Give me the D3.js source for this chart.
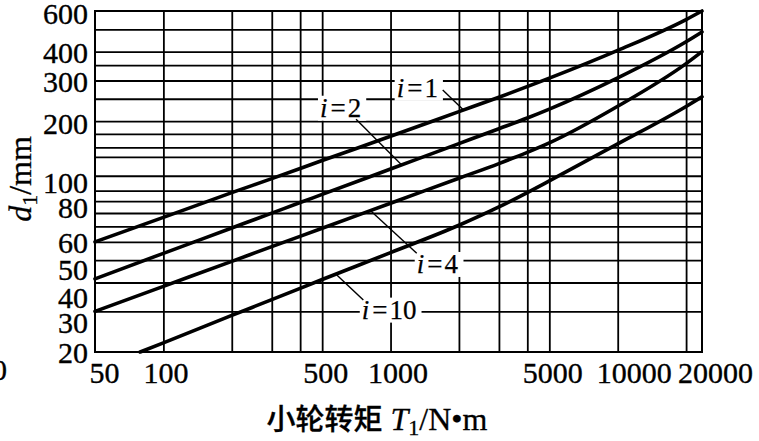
<!DOCTYPE html>
<html><head><meta charset="utf-8">
<script src="https://cdn.jsdelivr.net/npm/d3@7"></script>
<style>body{margin:0;background:#fff}svg{display:block}</style>
</head><body><svg id="c" width="759" height="441"></svg>
<script>
// ---------- data ----------
const xGridVals = [100,200,300,400,500,1000,2000,3000,4000,5000,10000,20000];
const yGridVals = [30,40,50,60,70,80,90,100,116,140,154,176,200,250,300,350,400,500];
const xTickLabels = [50,100,500,1000,5000,10000,20000];
const yTickLabels = [20,30,40,50,60,80,100,200,300,400,600];

const T_i1  = [50,100,200,300,500,1000,2000,3000,5000,10000,20000,23500];
const D_i1  = [60,76.6,98,112.7,135,172,220,254,307,405,551,600];
const T_i2  = [50,100,200,300,400,500,1000,2000,3000,4000,5000,10000,20000,23500];
const D_i2  = [41.5,53.5,68.9,79.9,88.8,96.3,124.1,159.9,185.5,206.3,225.5,308,441.7,487];
const T_i4  = [50,100,200,300,500,1000,2000,3000,4000,5000,10000,20000,23500];
const D_i4  = [30,38.5,49.4,57.2,68.7,88.2,113.2,131,146.5,161,232,355,400];
const T_i10 = [79,100,200,300,500,1000,2000,3000,4000,5000,10000,20000,23500];
const D_i10 = [20,21.9,28.8,33.7,41.2,53.9,70.8,85,98.1,110.2,159.3,231.6,255];

const seriesNames = ["1","2","4","10"];
// label anchor (T,d) and leader ends [(T,d) -> (T,d)]
const labelT = [1064, 489, 1304, 747];
const labelD = [255, 209, 44, 27.9];
const leadT0 = [1697, 705, 826, 580];
const leadD0 = [273, 204, 81, 43.1];
const leadT1 = [2090, 1120, 1304, 759];
const leadD1 = [224, 129, 53.5, 33.6];

// ---------- chart ----------
const svg = d3.select("#c");
const serif = "'Liberation Serif','Times New Roman',serif";
const x = d3.scaleLog().domain([50,23500]).range([95,702]);
const y = d3.scaleLog().domain([20,600]).range([352,11]);
const plotH = y(20) - y(600), plotW = x(23500) - x(50);

// vertical grid
const gx = svg.append("g").attr("transform",`translate(0,${y(20)})`)
  .call(d3.axisBottom(x).tickValues(xGridVals).tickSize(-plotH).tickFormat(""));
gx.select(".domain").remove();
gx.selectAll("line").attr("stroke","#000").attr("stroke-width",1.8);
// horizontal grid
const gy = svg.append("g").attr("transform",`translate(${x(50)},0)`)
  .call(d3.axisLeft(y).tickValues(yGridVals).tickSize(-plotW).tickFormat(""));
gy.select(".domain").remove();
gy.selectAll("line").attr("stroke","#000").attr("stroke-width",1.8);
// frame
svg.append("rect").attr("x",x(50)).attr("y",y(600)).attr("width",plotW).attr("height",plotH)
  .attr("fill","none").attr("stroke","#000").attr("stroke-width",2);

// tick labels
const xNudge = {50:9,100:2,500:3,1000:7,5000:3,10000:16,20000:29};
const ax = svg.append("g").attr("transform",`translate(0,${y(20)})`)
  .call(d3.axisBottom(x).tickValues(xTickLabels).tickSize(0).tickPadding(0).tickFormat(d3.format("d")));
ax.select(".domain").remove();
ax.selectAll("text").attr("font-family",serif).attr("font-size",30).attr("fill","#000")
  .attr("stroke","#000").attr("stroke-width",0.35)
  .attr("dy",null).attr("y",31).attr("dx",d=>xNudge[d]||0);

const yNudge = {20:0,30:11,40:15,50:9,60:0,80:-6,100:-8,200:2,300:1,400:1,600:2};
const ay = svg.append("g").attr("transform",`translate(${x(50)},0)`)
  .call(d3.axisLeft(y).tickValues(yTickLabels).tickSize(0).tickPadding(7).tickFormat(d3.format("d")));
ay.select(".domain").remove();
ay.selectAll("text").attr("font-family",serif).attr("font-size",30).attr("fill","#000")
  .attr("stroke","#000").attr("stroke-width",0.35)
  .attr("dy","0.34em").attr("y",d=>yNudge[d]||0);

// stray clipped glyph at left edge (as in reference)
svg.append("text").attr("x",-8).attr("y",380).attr("font-family",serif).attr("font-size",30)
  .attr("stroke","#000").attr("stroke-width",0.35).text("0");

// curves
const series = [
  {name:"1", T:T_i1, D:D_i1},
  {name:"2", T:T_i2, D:D_i2},
  {name:"4", T:T_i4, D:D_i4},
  {name:"10", T:T_i10, D:D_i10}
];
const line = d3.line().x(d=>x(d[0])).y(d=>y(d[1])).curve(d3.curveMonotoneX);
svg.append("g").selectAll("path").data(series).join("path")
  .attr("d",s=>line(s.T.map((t,i)=>[t,s.D[i]])))
  .attr("fill","none").attr("stroke","#000").attr("stroke-width",3.6).attr("stroke-linecap","round");

// labels
const lg = svg.append("g");
seriesNames.forEach((nm,k)=>{
  const grp = lg.append("g");
  const t = grp.append("text").attr("x",x(labelT[k])).attr("y",y(labelD[k]))
    .attr("font-family",serif).attr("font-size",27).attr("fill","#000")
    .attr("stroke","#000").attr("stroke-width",0.25);
  t.append("tspan").attr("font-style","italic").text("i");
  t.append("tspan").attr("dx",3).text("=");
  t.append("tspan").attr("dx",2).text(nm);
  const bb = t.node().getBBox();
  grp.insert("rect","text").attr("x",bb.x-2).attr("y",bb.y+3).attr("width",bb.width+7).attr("height",bb.height-5).attr("fill","#fff");
  lg.append("line").attr("x1",x(leadT0[k])).attr("y1",y(leadD0[k]))
    .attr("x2",x(leadT1[k])).attr("y2",y(leadD1[k])).attr("stroke","#000").attr("stroke-width",1.4);
});

// axis titles
const yt = svg.append("text").attr("transform",`translate(31,${179}) rotate(-90)`)
  .attr("text-anchor","middle").attr("font-family",serif).attr("font-size",32).attr("fill","#000")
  .attr("stroke","#000").attr("stroke-width",0.3);
yt.append("tspan").attr("font-style","italic").text("d");
yt.append("tspan").attr("font-size",22).attr("dy",6).text("1");
yt.append("tspan").attr("dy",-6).text("/mm");

const xt = svg.append("text").attr("x",377).attr("y",430).attr("text-anchor","middle")
  .attr("font-family",serif).attr("font-size",32).attr("fill","#000")
  .attr("stroke","#000").attr("stroke-width",0.3);
xt.append("tspan").attr("font-family","'Noto Sans CJK SC',sans-serif").attr("font-weight",500).attr("font-size",29).text("小轮转矩");
xt.append("tspan").attr("dx",8).attr("font-style","italic").text("T");
xt.append("tspan").attr("font-size",22).attr("dy",5).text("1");
xt.append("tspan").attr("dy",-5).text("/N\u2022m");
</script></body></html>
